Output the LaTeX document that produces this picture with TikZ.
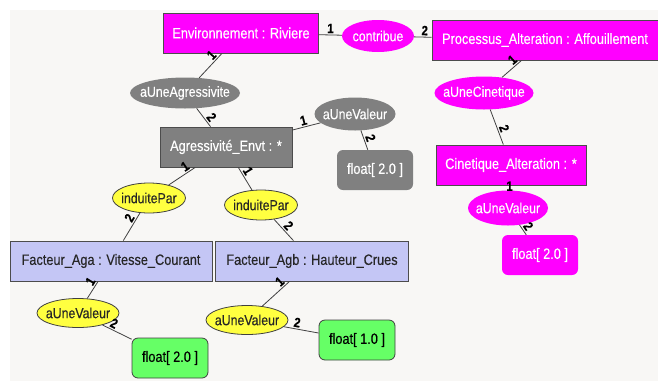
\documentclass[tikz,border=0pt]{standalone}
\usepackage{fontspec}
\setmainfont[FakeStretch=0.85, FakeBold=0.3]{Liberation Sans}
\usetikzlibrary{positioning, shapes.geometric}

\definecolor{paperbg}{RGB}{248,247,245}
\definecolor{magclr}{RGB}{255,0,255}
\definecolor{greyclr}{RGB}{128,128,128}
\definecolor{blueclr}{RGB}{196,198,245}
\definecolor{yellowclr}{RGB}{255,255,64}
\definecolor{greenclr}{RGB}{102,255,102}

\begin{document}
\begin{tikzpicture}[
  x=1pt, y=-1pt,
  classbox/.style={
    rectangle, draw=black!70, thick, minimum height=40pt,
    inner sep=4pt, font=\fontsize{15}{17}\selectfont
  },
  magbox/.style={classbox, fill=magclr, text=white},
  greybox/.style={classbox, fill=greyclr, text=white},
  bluebox/.style={classbox, fill=blueclr, text=black!85},
  valbox/.style={
    rectangle, rounded corners=6pt, minimum width=76pt, minimum height=40pt,
    inner sep=2pt, font=\fontsize{15}{17}\selectfont
  },
  relnode/.style={
    ellipse, inner xsep=-30pt, inner ysep=0pt, font=\fontsize{14.5}{16}\selectfont
  },
  magrel/.style={relnode, fill=magclr, text=white},
  greyrel/.style={relnode, fill=greyclr, text=white},
  yellowrel/.style={relnode, fill=yellowclr, draw=black!75, thick, text=black!85},
  link/.style={draw=black!75, line width=0.8pt},
  cardfont/.style={font=\bfseries\fontsize{13.5}{15}\selectfont},
  card/.style={cardfont, inner sep=1.5pt, sloped},
]

%% ── Background ───────────────────────────────────────────────────────────────
\useasboundingbox (0,0) rectangle (658,381);
\fill[paperbg] (10,10) rectangle (658,381);

%% ── Classes ──────────────────────────────────────────────────────────────────
\node[magbox, minimum width=155pt] (env) at (241,33) {Environnement : Riviere};
\node[magbox, minimum width=226pt] (proc) at (545,40) {Processus\_Alteration : Affouillement};
\node[greybox, minimum width=132pt] (agr) at (226,147) {Agressivité\_Envt : *};
\node[magbox, minimum width=150pt] (cin) at (511,165) {Cinetique\_Alteration : *};
\node[bluebox, minimum width=202pt] (faga) at (111,261) {Facteur\_Aga : Vitesse\_Courant};
\node[bluebox, minimum width=193pt] (fagb) at (312,261) {Facteur\_Agb : Hauteur\_Crues};

%% ── Relations ────────────────────────────────────────────────────────────────
\node[magrel, minimum width=72pt, minimum height=32pt] (contrib) at (378,36) {contribue};
\node[greyrel, minimum width=110pt, minimum height=31pt] (agress) at (185,93) {aUneAgressivite};
\node[greyrel, minimum width=81pt, minimum height=33pt] (valgrey) at (355,114) {aUneValeur};
\node[magrel, minimum width=99pt, minimum height=33pt] (cinet) at (484,93) {aUneCinetique};
\node[magrel, minimum width=80pt, minimum height=35pt] (valmag) at (508,208) {aUneValeur};
\node[yellowrel, minimum width=73pt, minimum height=30pt] (indA) at (149,198) {induitePar};
\node[yellowrel, minimum width=73pt, minimum height=30pt] (indB) at (261,205) {induitePar};
\node[yellowrel, minimum width=82pt, minimum height=29pt] (valA) at (78,313) {aUneValeur};
\node[yellowrel, minimum width=82pt, minimum height=29pt] (valB) at (247,320) {aUneValeur};

%% ── Values ───────────────────────────────────────────────────────────────────
\node[valbox, fill=greyclr, text=white] (fgrey) at (375,170) {float[ 2.0 ]};
\node[valbox, fill=magclr, text=white] (fmag) at (540,255) {float[ 2.0 ]};
\node[valbox, fill=greenclr, draw=black!75, thick] (fA) at (170,358) {float[ 2.0 ]};
\node[valbox, fill=greenclr, draw=black!75, thick] (fB) at (357,340) {float[ 1.0 ]};

%% ── Links ────────────────────────────────────────────────────────────────────
\draw[link] (env) -- node[card, above, pos=0.5] {1} (contrib);
\draw[link] (contrib) -- node[card, above, pos=0.6] {2} (proc);
\draw[link] (env) -- node[card, above, pos=0.25] {1} (agress);
\draw[link] (agress) -- node[card, above, pos=0.7] {2} (agr);
\draw[link] (agr) -- node[card, above, pos=0.45] {1} (valgrey);
\draw[link] (valgrey) -- node[card, above, pos=0.5] {2} (fgrey);
\draw[link] (proc) -- node[card, above, pos=0.25] {1} (cinet);
\draw[link] (cinet) -- node[card, above, pos=0.6] {2} (cin);
\draw[link] (cin) -- node[cardfont, inner sep=0pt, pos=0.15] {1} (valmag);
\draw[link] (valmag) -- node[card, above, pos=0.5] {2} (fmag);
\draw[link] (agr) -- node[card, above, pos=0.25] {1} (indA);
\draw[link] (indA) -- node[card, above, pos=0.3] {2} (faga);
\draw[link] (agr) -- node[card, above, pos=0.3] {1} (indB);
\draw[link] (indB) -- node[card, above, pos=0.5] {2} (fagb);
\draw[link] (faga) -- node[card, above, pos=0.2] {1} (valA);
\draw[link] (valA) -- node[card, above, pos=0.3] {2} (fA);
\draw[link] (fagb) -- node[card, above, pos=0.2] {1} (valB);
\draw[link] (valB) -- node[card, above, pos=0.35] {2} (fB);

\end{tikzpicture}
\end{document}
